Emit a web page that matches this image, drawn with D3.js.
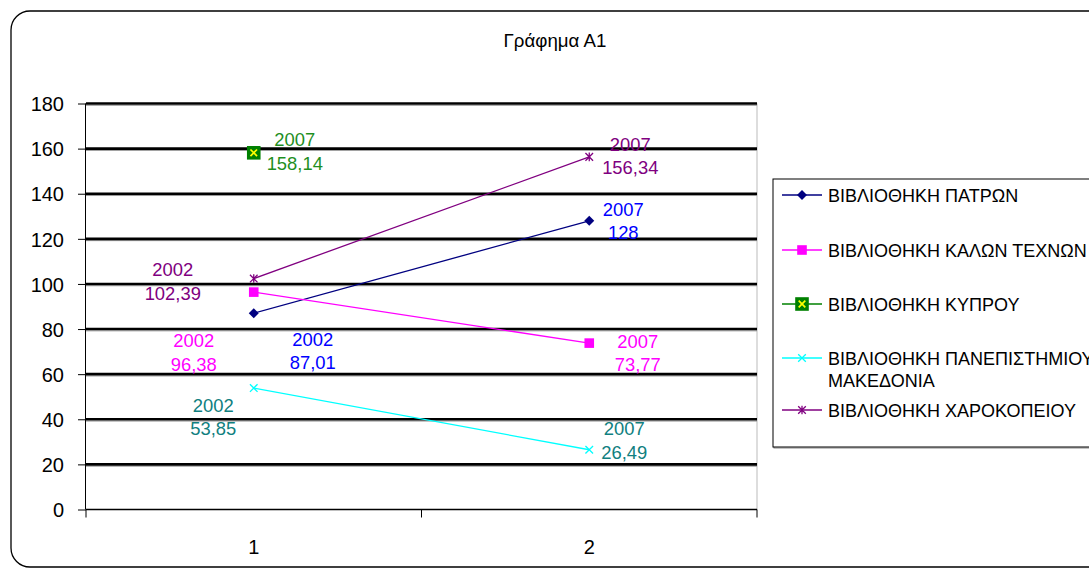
<!DOCTYPE html>
<html>
<head>
<meta charset="utf-8">
<script src="https://cdn.jsdelivr.net/npm/d3@7"></script>
<style>
  html, body { margin: 0; padding: 0; background: #fff; }
  svg { display: block; font-family: "Liberation Sans", Arial, sans-serif; }
</style>
</head>
<body>
<svg id="chart" width="1089" height="568"></svg>
<script>
// Categories on the x axis and y-axis ticks
const categories = ["1", "2"];
const yTicks = [0, 20, 40, 60, 80, 100, 120, 140, 160, 180];

// Series names
const seriesNames = [
  "ΒΙΒΛΙΟΘΗΚΗ ΠΑΤΡΩΝ",
  "ΒΙΒΛΙΟΘΗΚΗ ΚΑΛΩΝ ΤΕΧΝΩΝ",
  "ΒΙΒΛΙΟΘΗΚΗ ΚΥΠΡΟΥ",
  "ΒΙΒΛΙΟΘΗΚΗ ΠΑΝΕΠΙΣΤΗΜΙΟΥ ΜΑΚΕΔΟΝΙΑ",
  "ΒΙΒΛΙΟΘΗΚΗ ΧΑΡΟΚΟΠΕΙΟΥ"
];

// Values per series (null = no point)
const patron = [87.01, 128];
const kalonTechnon = [96.38, 73.77];
const kyprou = [158.14, null];
const panepistimiou = [53.85, 26.49];
const xarokopeiou = [102.39, 156.34];

// Year shown in each data label
const patronYears = ["2002", "2007"];
const kalonTechnonYears = ["2002", "2007"];
const kyprouYears = ["2007", null];
const panepistimiouYears = ["2002", "2007"];
const xarokopeiouYears = ["2002", "2007"];

const seriesValues = [patron, kalonTechnon, kyprou, panepistimiou, xarokopeiou];
const seriesYears = [patronYears, kalonTechnonYears, kyprouYears, panepistimiouYears, xarokopeiouYears];

// Styling per series
const lineColors = ["#000080", "#ff00ff", "#008000", "#00ffff", "#800080"];
const labelColors = ["#0000ff", "#ff00ff", "#1f8f1f", "#108080", "#800080"];
const markerKinds = ["diamond", "square", "boxx", "x", "star"];

// Label offsets (dx, dy of first line's centre) relative to each point
const labelOffsets = [
  [[59, 26], [34, -11.5]],
  [[-60, 48.5], [48.5, -2]],
  [[41, -13], null],
  [[-40.5, 17], [35, -21]],
  [[-81, -9], [41, -12.5]]
];

const LABEL_FONT = 18.4;
const LABEL_LINE = 23.5;

const svg = d3.select("#chart");

// Outer rounded frame
svg.append("rect")
  .attr("x", 11).attr("y", 11)
  .attr("width", 1100).attr("height", 556)
  .attr("rx", 19).attr("ry", 19)
  .attr("fill", "#fff").attr("stroke", "#000").attr("stroke-width", 1.3);

// Title
svg.append("text")
  .attr("x", 555).attr("y", 46.5)
  .attr("text-anchor", "middle")
  .attr("font-size", 18.7)
  .text("Γράφημα Α1");

const plot = { left: 86, right: 757, top: 103.5, bottom: 509.5 };

const x = d3.scaleBand().domain(categories).range([plot.left, plot.right]);
const y = d3.scaleLinear().domain([0, 180]).range([plot.bottom, plot.top]);
const cx = c => x(c) + x.bandwidth() / 2;

// Right edge of plot area
svg.append("line")
  .attr("x1", plot.right).attr("x2", plot.right)
  .attr("y1", plot.top).attr("y2", plot.bottom)
  .attr("stroke", "#bbb").attr("stroke-width", 1);

// Heavy gridlines
const grid = svg.append("g");
yTicks.filter(t => t > 0).forEach(t => {
  grid.append("line")
    .attr("x1", plot.left).attr("x2", plot.right)
    .attr("y1", y(t) + 1.8).attr("y2", y(t) + 1.8)
    .attr("stroke", "#999").attr("stroke-width", 1);
  grid.append("line")
    .attr("x1", plot.left).attr("x2", plot.right)
    .attr("y1", y(t)).attr("y2", y(t))
    .attr("stroke", "#000").attr("stroke-width", 2.6);
});

// Y axis
const yAxis = svg.append("g")
  .attr("transform", `translate(${plot.left},0)`)
  .call(d3.axisLeft(y).tickValues(yTicks).tickSize(8).tickPadding(14).tickFormat(d3.format("d")));
yAxis.select(".domain").attr("stroke", "#000").attr("d", `M-0.5,${plot.top}V${plot.bottom}`);
yAxis.selectAll(".tick line").attr("stroke", "#000");
yAxis.selectAll(".tick text")
  .attr("font-size", 20)
  .attr("font-family", "Liberation Sans, Arial, sans-serif")
  .attr("fill", "#000")
  .attr("dy", "0.36em");

// X axis with ticks at category boundaries
const xAxisG = svg.append("g").attr("transform", `translate(0,${plot.bottom})`);
xAxisG.append("line")
  .attr("x1", plot.left).attr("x2", plot.right)
  .attr("y1", 0).attr("y2", 0)
  .attr("stroke", "#000").attr("stroke-width", 1.5);
const boundaries = categories.map(c => x(c)).concat([x(categories[categories.length - 1]) + x.bandwidth()]);
boundaries.forEach(b => {
  xAxisG.append("line")
    .attr("x1", b).attr("x2", b).attr("y1", 0).attr("y2", 8)
    .attr("stroke", "#000").attr("stroke-width", 1);
});
categories.forEach(c => {
  xAxisG.append("text")
    .attr("x", cx(c)).attr("y", 44)
    .attr("text-anchor", "middle")
    .attr("font-size", 20)
    .text(c);
});

// Marker drawing
function drawMarker(g, kind, px, py, color) {
  if (kind === "diamond") {
    const s = 5;
    g.append("path").attr("d", `M${px},${py - s}L${px + s},${py}L${px},${py + s}L${px - s},${py}Z`).attr("fill", color);
  } else if (kind === "square") {
    const s = 4.8;
    g.append("rect").attr("x", px - s).attr("y", py - s).attr("width", 2 * s).attr("height", 2 * s).attr("fill", color);
  } else if (kind === "boxx") {
    const s = 6.8;
    g.append("rect").attr("x", px - s).attr("y", py - s).attr("width", 2 * s).attr("height", 2 * s).attr("fill", "#008000");
    const k = 3.3;
    g.append("path").attr("d", `M${px - k},${py - k}L${px + k},${py + k}M${px + k},${py - k}L${px - k},${py + k}`)
      .attr("stroke", "#ffff00").attr("stroke-width", 1.7);
  } else if (kind === "x") {
    const k = 3.8;
    g.append("path").attr("d", `M${px - k},${py - k}L${px + k},${py + k}M${px + k},${py - k}L${px - k},${py + k}`)
      .attr("stroke", color).attr("stroke-width", 1.3);
  } else if (kind === "star") {
    const k = 3.8;
    g.append("path").attr("d", `M${px - k},${py - k}L${px + k},${py + k}M${px + k},${py - k}L${px - k},${py + k}M${px},${py - k - 0.5}L${px},${py + k + 0.5}`)
      .attr("stroke", color).attr("stroke-width", 1.3);
  }
}

// Series lines and markers
const seriesG = svg.append("g");
seriesValues.forEach((vals, si) => {
  const pts = vals.map((v, i) => v == null ? null : [cx(categories[i]), y(v)]);
  const line = d3.line().defined(d => d != null);
  seriesG.append("path")
    .attr("d", line(pts))
    .attr("fill", "none")
    .attr("stroke", lineColors[si])
    .attr("stroke-width", 1.3);
  pts.forEach(p => { if (p) drawMarker(seriesG, markerKinds[si], p[0], p[1], lineColors[si]); });
});

// Data labels: year on the first line, value (comma decimal) on the second
const fmtValue = v => (Number.isInteger(v) ? String(v) : d3.format(".2f")(v)).replace(".", ",");
const labelG = svg.append("g");
seriesValues.forEach((vals, si) => {
  vals.forEach((v, i) => {
    if (v == null) return;
    const [dx, dy] = labelOffsets[si][i];
    const px = cx(categories[i]) + dx;
    const py = y(v) + dy;
    const t = labelG.append("text")
      .attr("text-anchor", "middle")
      .attr("font-size", LABEL_FONT)
      .attr("fill", labelColors[si]);
    t.append("tspan").attr("x", px).attr("y", py + 6.6).text(seriesYears[si][i]);
    t.append("tspan").attr("x", px).attr("y", py + 6.6 + LABEL_LINE).text(fmtValue(v));
  });
});

// Legend
const legend = svg.append("g");
legend.append("rect")
  .attr("x", 774).attr("y", 180)
  .attr("width", 400).attr("height", 268)
  .attr("fill", "none").attr("stroke", "#888").attr("stroke-width", 1);
legend.append("rect")
  .attr("x", 773).attr("y", 179)
  .attr("width", 400).attr("height", 268)
  .attr("fill", "#fff").attr("stroke", "#000").attr("stroke-width", 1);
const legendY = [195, 250, 304, 358, 410];
seriesNames.forEach((name, si) => {
  const ly = legendY[si];
  legend.append("line")
    .attr("x1", 782).attr("x2", 822).attr("y1", ly).attr("y2", ly)
    .attr("stroke", lineColors[si]).attr("stroke-width", 1.3);
  drawMarker(legend, markerKinds[si], 802, ly, lineColors[si]);
  const txt = legend.append("text").attr("font-size", 18).attr("fill", "#000");
  if (si === 3) {
    txt.append("tspan").attr("x", 828).attr("y", ly + 6.5).text("ΒΙΒΛΙΟΘΗΚΗ ΠΑΝΕΠΙΣΤΗΜΙΟΥ");
    txt.append("tspan").attr("x", 828).attr("y", ly + 29).text("ΜΑΚΕΔΟΝΙΑ");
  } else {
    txt.append("tspan").attr("x", 828).attr("y", ly + 6.5).text(name);
  }
});
</script>
</body>
</html>
